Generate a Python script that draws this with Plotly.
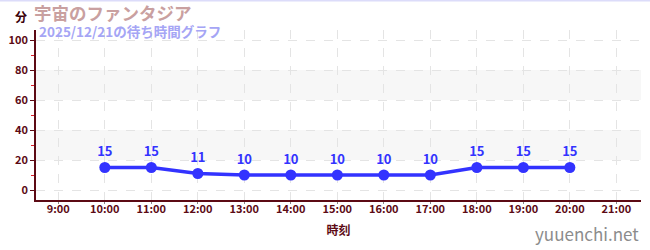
import plotly.graph_objects as go

times = ["10:00", "11:00", "12:00", "13:00", "14:00", "15:00", "16:00", "17:00", "18:00", "19:00", "20:00"]
waits = [15, 15, 11, 10, 10, 10, 10, 10, 15, 15, 15]
date = "2025-12-21"
title = "宇宙のファンタジア"
subtitle = "2025/12/21の待ち時間グラフ"

x = [f"{date} {t}" for t in times]

FONT = "Noto Sans CJK JP"
AXIS = "#5c0a14"
BLUE = "#3333ff"

fig = go.Figure()
fig.add_trace(go.Scatter(
    x=x, y=waits, mode="lines+markers+text",
    text=[str(v) for v in waits], textposition="top center",
    textfont=dict(family=FONT, size=13, color=BLUE, weight="bold"),
    line=dict(color=BLUE, width=3.5),
    marker=dict(color=BLUE, size=11),
    cliponaxis=False, hoverinfo="skip",
))

shapes = []
for lo, hi in [(20, 40), (60, 80)]:
    shapes.append(dict(type="rect", xref="paper", yref="y", x0=0, x1=1, y0=lo, y1=hi,
                       fillcolor="#f7f7f7", line=dict(width=0), layer="below"))
shapes.append(dict(type="line", xref="paper", yref="paper", x0=-0.06, x1=1.02, y0=1.174, y1=1.174,
                   line=dict(color="#dcdcfa", width=2)))

fig.update_layout(
    width=650, height=250,
    margin=dict(l=31, r=9, t=30, b=50),
    paper_bgcolor="white", plot_bgcolor="white",
    showlegend=False,
    shapes=shapes,
    font=dict(family=FONT, color=AXIS),
    xaxis=dict(
        type="date",
        range=[f"{date} 08:31:12", f"{date} 21:31:48"],
        dtick=3600000, tick0=f"{date} 09:00",
        tickformat="%-H:%M",
        tickfont=dict(family=FONT, size=11, color=AXIS, weight="bold"),
        showline=True, linecolor=AXIS, linewidth=1.5,
        ticks="outside", ticklen=2, tickcolor="#888888",
        ticklabelstandoff=-4,
        showgrid=True, gridcolor="#e4e4e4", griddash="dash", gridwidth=1,
        zeroline=False,
        title=dict(text="時刻", font=dict(family=FONT, size=12, color=AXIS, weight="bold"), standoff=12),
    ),
    yaxis=dict(
        range=[-6.67, 106.67],
        tickvals=[0, 20, 40, 60, 80, 100],
        tickfont=dict(family=FONT, size=11, color=AXIS, weight="bold"),
        showline=True, linecolor=AXIS, linewidth=1.5,
        ticks="outside", ticklen=4, tickcolor=AXIS,
        minor=dict(tickvals=[10, 30, 50, 70, 90], ticks="outside", ticklen=3, tickcolor="#e0202a", showgrid=False),
        showgrid=True, gridcolor="#e4e4e4", griddash="dash", gridwidth=1,
        zeroline=False,
    ),
    annotations=[
        dict(text="分", xref="paper", yref="paper", x=-0.011, y=1.082, xanchor="right", yanchor="middle",
             showarrow=False, font=dict(family=FONT, size=12, color="#3a0008", weight="bold")),
        dict(text=title, xref="paper", yref="paper", x=-0.006, y=1.104, xanchor="left", yanchor="middle",
             showarrow=False, font=dict(family=FONT, size=17.5, color="#c9a0a0", weight="bold")),
        dict(text=subtitle, xref="paper", yref="paper", x=0.0015, y=0.994, xanchor="left", yanchor="middle",
             showarrow=False, font=dict(family=FONT, size=13.5, color="#a5a5f5", weight="bold")),
        dict(text="yuuenchi.net", xref="paper", yref="paper", x=1.0, y=-0.195, xanchor="right", yanchor="middle",
             showarrow=False, font=dict(family=FONT, size=17, color="#8c8c8c")),
    ],
)

fig.write_html("out.html")
